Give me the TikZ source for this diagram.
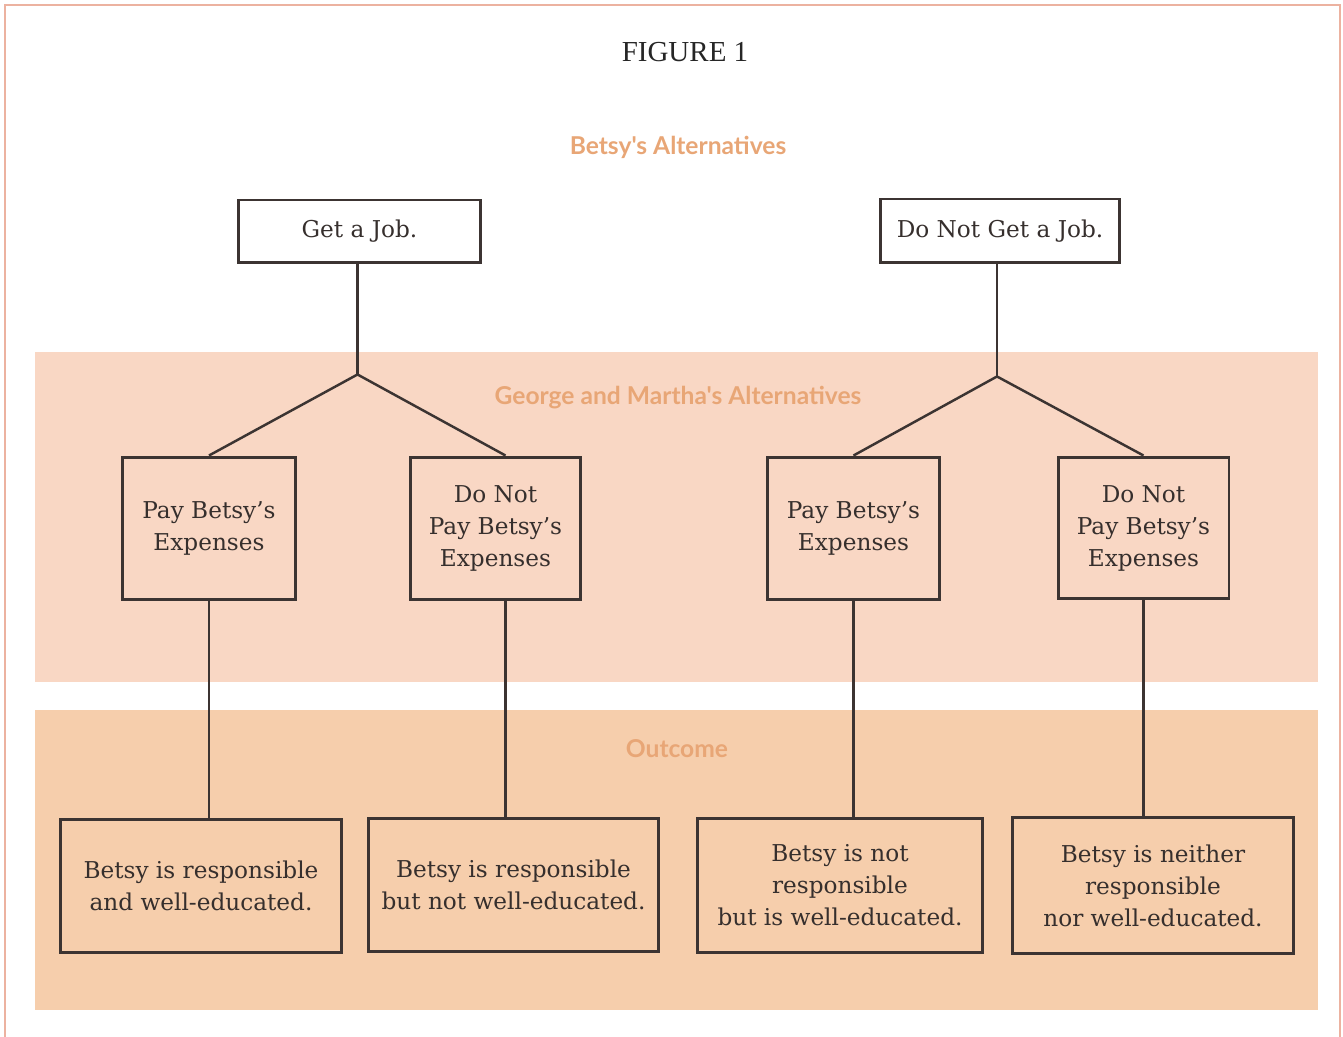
\documentclass[tikz,border=0pt]{standalone}
\usepackage{fontspec}
\setmainfont{DejaVu Serif}
\newfontfamily\labfont{Lato}
\newfontfamily\titfont{Liberation Serif}
\usetikzlibrary{calc}
\definecolor{bandA}{RGB}{249,215,196}
\definecolor{bandB}{RGB}{246,206,172}
\definecolor{labcol}{RGB}{232,166,118}
\definecolor{framecol}{RGB}{236,178,160}
\definecolor{inkcol}{RGB}{60,52,50}
\tikzset{
  box/.style={draw=inkcol, line width=1.7pt, inner sep=0pt, align=center,
    font=\fontsize{13.2}{18.2}\selectfont, text=inkcol!90!black},
  conn/.style={draw=inkcol, line width=1.4pt},
  bandlab/.style={text=labcol, font=\labfont\bfseries\fontsize{14}{16}\selectfont},
}
\begin{document}
\begin{tikzpicture}[x=0.02cm, y=-0.02cm]
\useasboundingbox (0,0) rectangle (1343,1037);
% frame
\draw[framecol, line width=1.2pt] (5,1037) -- (5,5) -- (1340,5) -- (1340,1037);
% bands
\fill[bandA] (35,352) rectangle (1318,682);
\fill[bandB] (35,710) rectangle (1318,1010);
% titles
\node[font=\titfont\fontsize{16.5}{18}\selectfont, text=black!85] (title) at (685,52) {FIGURE 1};
\node[bandlab] (lab1) at (678,147) {Betsy's Alternatives};
\node[bandlab] (lab2) at (678,398) {George and Martha's Alternatives};
\node[bandlab] (lab3) at (677,749) {Outcome};
% top boxes
\node[box, minimum width=4.86cm, minimum height=1.26cm] (gj) at (359.5,231.5) {Get a Job.};
\node[box, minimum width=4.80cm, minimum height=1.28cm] (dn) at (1000,231) {Do Not Get a Job.};
% middle boxes
\node[box, minimum width=3.48cm, minimum height=2.86cm] (pl) at (209,528.5) {Pay Betsy's\\Expenses};
\node[box, minimum width=3.42cm, minimum height=2.86cm] (dl) at (495.5,528.5) {Do Not\\Pay Betsy's\\Expenses};
\node[box, minimum width=3.46cm, minimum height=2.86cm] (pr) at (853.5,528.5) {Pay Betsy's\\Expenses};
\node[box, minimum width=3.42cm, minimum height=2.84cm] (dr) at (1143.5,528) {Do Not\\Pay Betsy's\\Expenses};
% outcome boxes
\node[box, minimum width=5.64cm, minimum height=2.68cm] (o1) at (201,886) {Betsy is responsible\\and well-educated.};
\node[box, minimum width=5.82cm, minimum height=2.68cm] (o2) at (513.5,885) {Betsy is responsible\\but not well-educated.};
\node[box, minimum width=5.72cm, minimum height=2.70cm] (o3) at (840,885.5) {Betsy is not\\responsible\\but is well-educated.};
\node[box, minimum width=5.64cm, minimum height=2.74cm] (o4) at (1153,885.5) {Betsy is neither\\responsible\\nor well-educated.};
% junctions
\coordinate (jl) at ($(gj.south)+(-2,110)$);
\coordinate (jr) at ($(dn.south)+(-3,112)$);
\coordinate (dlt) at ($(dl.north)+(10,0)$);
\coordinate (dlb) at ($(dl.south)+(10,0)$);
% connectors
\draw[conn] (gj.south -| jl) -- (jl);
\draw[conn] (pl.north) -- (jl) -- (dlt);
\draw[conn] (dn.south -| jr) -- (jr);
\draw[conn] (pr.north) -- (jr) -- (dr.north);
\draw[conn] (pl.south) -- (o1.north -| pl.south);
\draw[conn] (dlb) -- (o2.north -| dlb);
\draw[conn] (pr.south) -- (o3.north -| pr.south);
\draw[conn] (dr.south) -- (o4.north -| dr.south);
\end{tikzpicture}
\end{document}
